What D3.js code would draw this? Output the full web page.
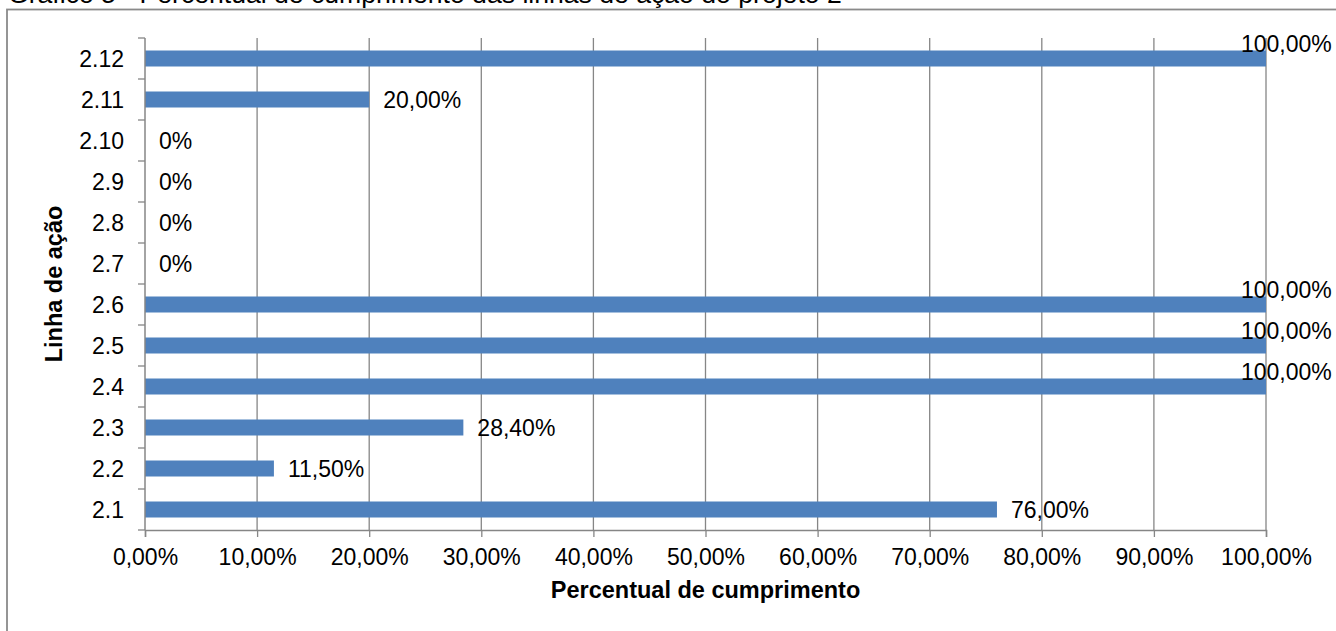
<!DOCTYPE html>
<html>
<head>
<meta charset="utf-8">
<script src="https://cdn.jsdelivr.net/npm/d3@7"></script>
<style>
  html, body { margin: 0; padding: 0; background: #fff; overflow: hidden; }
  svg { display: block; }
  text { font-family: "Liberation Sans", Arial, sans-serif; fill: #000; }
</style>
</head>
<body>
<svg id="chart" width="1336" height="631"></svg>
<script>
// Action lines of project 2 and their completion percentage
const categories = ["2.1", "2.2", "2.3", "2.4", "2.5", "2.6", "2.7", "2.8", "2.9", "2.10", "2.11", "2.12"];
const values = [76.0, 11.5, 28.4, 100, 100, 100, 0, 0, 0, 0, 20.0, 100];
const labels = ["76,00%", "11,50%", "28,40%", "100,00%", "100,00%", "100,00%", "0%", "0%", "0%", "0%", "20,00%", "100,00%"];
const xTicks = [0, 10, 20, 30, 40, 50, 60, 70, 80, 90, 100];
const xTickLabels = ["0,00%", "10,00%", "20,00%", "30,00%", "40,00%", "50,00%", "60,00%", "70,00%", "80,00%", "90,00%", "100,00%"];

const titleText = "Gráfico 5 - Percentual de cumprimento das linhas de ação do projeto 2";
const xTitle = "Percentual de cumprimento";
const yTitle = "Linha de ação";

const svg = d3.select("#chart");
const plot = { left: 145, right: 1266, top: 38, bottom: 530 };
const gridColor = "#868686";
const barColor = "#4F81BD";
const fs = 23;

// outer frame of the chart object
svg.append("rect")
  .attr("x", 7).attr("y", 9.5)
  .attr("width", 1400).attr("height", 700)
  .attr("fill", "none").attr("stroke", "#8a8a8a").attr("stroke-width", 1.8);

// caption above the frame
svg.append("text")
  .attr("x", 8).attr("y", 3)
  .style("font-size", "26.6px")
  .text(titleText);

const x = d3.scaleLinear().domain([0, 100]).range([plot.left, plot.right]);
const y = d3.scaleBand().domain(categories.slice().reverse())
  .range([plot.top, plot.bottom]).paddingInner(0.6).paddingOuter(0.3);
const yBand = d3.scaleBand().domain(categories.slice().reverse())
  .range([plot.top, plot.bottom]).padding(0);

// vertical gridlines
svg.append("g").selectAll("line").data(xTicks.slice(1)).join("line")
  .attr("x1", d => x(d)).attr("x2", d => x(d))
  .attr("y1", plot.top).attr("y2", plot.bottom)
  .attr("stroke", gridColor).attr("stroke-width", 1.3);

// bars
svg.append("g").selectAll("rect").data(categories).join("rect")
  .attr("x", x(0))
  .attr("y", (d) => yBand(d) + yBand.bandwidth() / 2 - 8)
  .attr("width", (d, i) => x(values[i]) - x(0))
  .attr("height", 16)
  .attr("fill", barColor);

// x axis
const xAxis = d3.axisBottom(x).tickValues(xTicks)
  .tickFormat((d, i) => xTickLabels[i]).tickSize(7).tickPadding(12);
const gx = svg.append("g").attr("transform", `translate(0,${plot.bottom})`).call(xAxis);
gx.select(".domain").attr("stroke", gridColor).attr("stroke-width", 1.5);
gx.selectAll(".tick line").attr("stroke", gridColor).attr("stroke-width", 1.3);
gx.selectAll(".tick text").style("font-size", fs + "px")
  .style("font-family", '"Liberation Sans", Arial, sans-serif').attr("fill", "#000");

// y axis, ticks sit on the band boundaries
const gy = svg.append("g").attr("transform", `translate(${plot.left},0)`);
gy.append("line").attr("x1", 0).attr("x2", 0)
  .attr("y1", plot.top).attr("y2", plot.bottom)
  .attr("stroke", gridColor).attr("stroke-width", 1.5);
const bounds = categories.map(c => yBand(c)).concat([plot.bottom]);
gy.selectAll("line.tk").data(bounds).join("line").attr("class", "tk")
  .attr("x1", -7).attr("x2", 0).attr("y1", d => d).attr("y2", d => d)
  .attr("stroke", gridColor).attr("stroke-width", 1.3);
gy.selectAll("text").data(categories).join("text")
  .attr("x", -21)
  .attr("y", d => yBand(d) + yBand.bandwidth() / 2 + 8)
  .attr("text-anchor", "end")
  .style("font-size", fs + "px")
  .text(d => d);

// data labels
svg.append("g").selectAll("text").data(categories).join("text")
  .attr("x", (d, i) => values[i] >= 100 ? x(values[i]) - 25 : x(values[i]) + 14)
  .attr("y", (d, i) => yBand(d) + yBand.bandwidth() / 2 + 8 - (values[i] >= 100 ? 15 : 0))
  .style("font-size", fs + "px")
  .text((d, i) => labels[i]);

// axis titles
svg.append("text")
  .attr("x", (plot.left + plot.right) / 2).attr("y", 598)
  .attr("text-anchor", "middle")
  .style("font-size", "23.5px").style("font-weight", "bold")
  .text(xTitle);

svg.append("text")
  .attr("transform", `translate(62,${(plot.top + plot.bottom) / 2}) rotate(-90)`)
  .attr("text-anchor", "middle")
  .style("font-size", "23.5px").style("font-weight", "bold")
  .text(yTitle);
</script>
</body>
</html>
